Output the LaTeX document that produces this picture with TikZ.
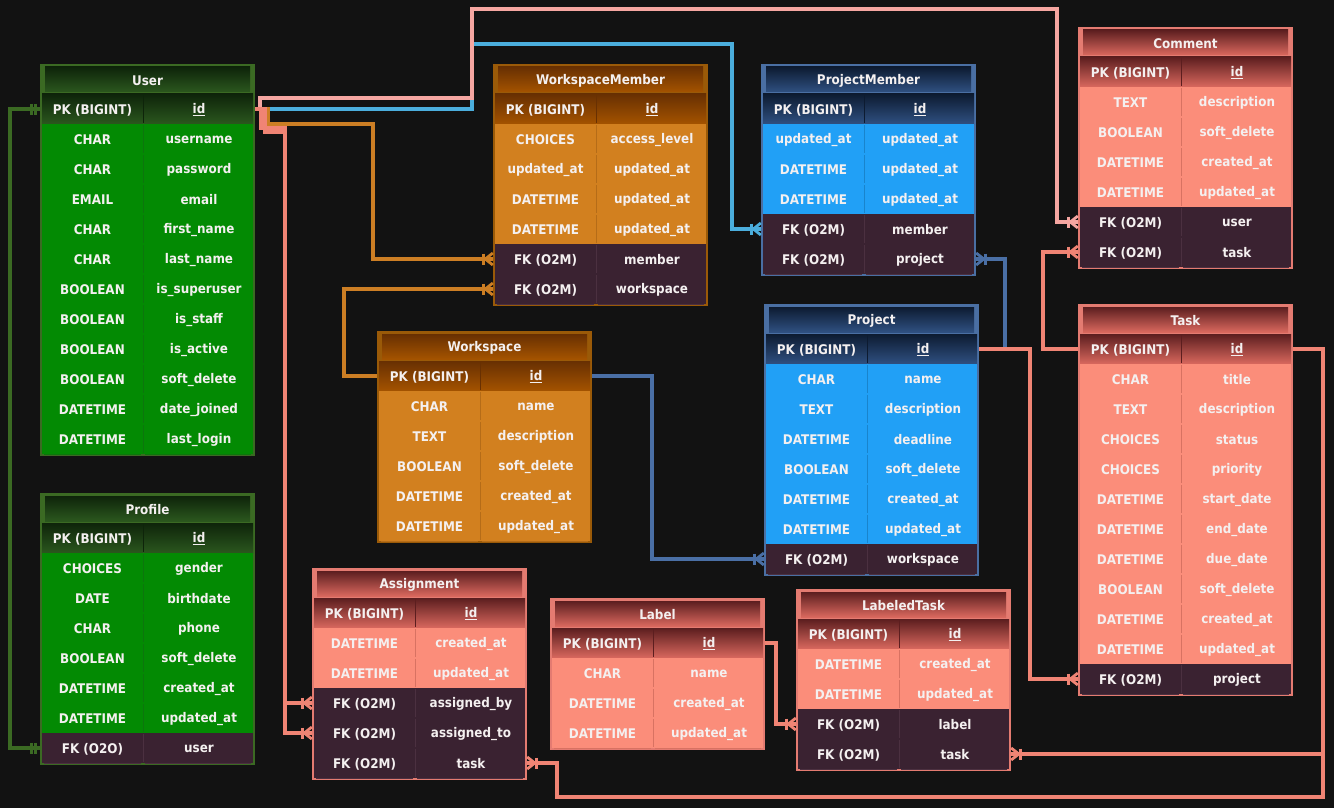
\documentclass[tikz,border=0pt]{standalone}
\usepackage{fontspec}
\setmainfont{DejaVu Sans}[FakeStretch=0.9]
\pgfdeclarelayer{bgl}
\pgfdeclarelayer{back}
\pgfsetlayers{bgl,back,main}

\definecolor{bg}{HTML}{121212}
\definecolor{txtc}{HTML}{F4F0F0}
\definecolor{fkR}{HTML}{3A2231}
\definecolor{fkD}{HTML}{4B3040}
\definecolor{gB}{HTML}{3B6A23}
\definecolor{gT}{HTML}{0E240A}
\definecolor{gM}{HTML}{2B571E}
\definecolor{gR}{HTML}{038A03}
\definecolor{gD}{HTML}{0C760C}
\definecolor{oB}{HTML}{9A5A08}
\definecolor{oT}{HTML}{683002}
\definecolor{oM}{HTML}{A45300}
\definecolor{oR}{HTML}{D2801F}
\definecolor{oD}{HTML}{B56C18}
\definecolor{bB}{HTML}{4A6FA3}
\definecolor{bT}{HTML}{0D1B31}
\definecolor{bM}{HTML}{2F5081}
\definecolor{bR}{HTML}{21A0F6}
\definecolor{bD}{HTML}{1984CC}
\definecolor{sB}{HTML}{E47B71}
\definecolor{sT}{HTML}{5C1E1F}
\definecolor{sM}{HTML}{D9685E}
\definecolor{sR}{HTML}{FB8D7A}
\definecolor{sD}{HTML}{D87262}
\definecolor{cGreen}{HTML}{3B6A23}
\definecolor{cOrange}{HTML}{CC7E24}
\definecolor{cSteel}{HTML}{4A6FA5}
\definecolor{cSky}{HTML}{4BAEDD}
\definecolor{cSalmon}{HTML}{F08474}
\definecolor{cPink}{HTML}{F5A6A1}

\tikzset{
  txt/.style={text=txtc, font=\fontsize{13.3}{15}\selectfont\bfseries, inner sep=0pt, anchor=center},
  rowanchor/.style={minimum width=215pt, minimum height=30pt, inner sep=0pt, draw=none},
  conn/.style={line width=3.2pt},
  mk/.style={line width=2.8pt},
  thin div/.style={line width=0.8pt},
}

\newcommand\ertable[7]{%
  \colorlet{tB}{#2B}\colorlet{tT}{#2T}\colorlet{tM}{#2M}\colorlet{tR}{#2R}\colorlet{tD}{#2D}%
  \pgfmathsetmacro\xa{#3}%
  \pgfmathsetmacro\xb{#3+215}%
  \pgfmathsetmacro\xs{#3+103}%
  \pgfmathsetmacro\yt{#4}%
  \pgfmathsetmacro\yb{#4+32+30*#6}%
  \fill[tB] (\xa,\yt) rectangle (\xb,\yb);
  \shade[top color=tT,bottom color=tM] (\xa+5,\yt+3) rectangle (\xb-5,\yt+28);
  \node[txt] (#1-title) at (\xa+107.5,\yt+16.5) {#5};
  \foreach \ty/\nm/\kk [count=\i from 0] in {#7}{%
    \pgfmathsetmacro\ya{\yt+30+30*\i}%
    \pgfmathsetmacro\yc{\ya+15}%
    \if p\kk
      \shade[top color=tT,bottom color=tM] (\xa+2,\ya) rectangle (\xb-2,\ya+30);
      \draw[thin div,tT] (\xs,\ya+1) -- (\xs,\ya+29);
    \else\if f\kk
      \fill[fkR] (\xa+2,\ya) rectangle (\xb-2,\ya+30);
      \draw[thin div,fkD] (\xs,\ya+1) -- (\xs,\ya+29) (\xa+4,\ya+30) -- (\xs-2,\ya+30) (\xs+2,\ya+30) -- (\xb-4,\ya+30);
    \else
      \fill[tR] (\xa+2,\ya) rectangle (\xb-2,\ya+30);
      \draw[thin div,tD] (\xs,\ya+1) -- (\xs,\ya+29) (\xa+4,\ya+30) -- (\xs-2,\ya+30) (\xs+2,\ya+30) -- (\xb-4,\ya+30);
    \fi\fi
    \node[rowanchor] (#1-\i) at (\xa+107.5,\yc) {};
    \node[txt] at (\xa+52.5,\yc+1) {\ty};
    \node[txt] at (\xa+159,\yc+1) {\nm};
  }%
}

\newcommand\crow[3]{%
  \begin{scope}[shift={(#1)}, xscale=#2]
    \draw[mk,#3] (-9,-5.5) -- (-9,5.5);
    \draw[mk,#3] (0,-6) -- (-7.5,0) -- (0,6) (-7.5,0) -- (0,0);
  \end{scope}}
\newcommand\oneone[3]{%
  \begin{scope}[shift={(#1)}, xscale=#2]
    \draw[mk,#3] (-8,-5.5) -- (-8,5.5) (-4,-5.5) -- (-4,5.5);
  \end{scope}}

\begin{document}
\begin{tikzpicture}[x=1pt,y=-1pt]
\useasboundingbox (0,0) rectangle (1334,808);
\begin{pgfonlayer}{bgl}
\fill[bg] (0,0) rectangle (1334,808);
\end{pgfonlayer}

\ertable{user}{g}{40}{64}{User}{12}{{PK (BIGINT)}/{\underline{id}}/p,CHAR/username/r,CHAR/password/r,EMAIL/email/r,CHAR/first\_name/r,CHAR/last\_name/r,BOOLEAN/is\_superuser/r,BOOLEAN/is\_staff/r,BOOLEAN/is\_active/r,BOOLEAN/soft\_delete/r,DATETIME/date\_joined/r,DATETIME/last\_login/r}

\ertable{profile}{g}{40}{493}{Profile}{8}{{PK (BIGINT)}/{\underline{id}}/p,CHOICES/gender/r,DATE/birthdate/r,CHAR/phone/r,BOOLEAN/soft\_delete/r,DATETIME/created\_at/r,DATETIME/updated\_at/r,{FK (O2O)}/user/f}

\ertable{wsm}{o}{493}{64}{WorkspaceMember}{7}{{PK (BIGINT)}/{\underline{id}}/p,CHOICES/access\_level/r,updated\_at/updated\_at/r,DATETIME/updated\_at/r,DATETIME/updated\_at/r,{FK (O2M)}/member/f,{FK (O2M)}/workspace/f}

\ertable{ws}{o}{377}{331}{Workspace}{6}{{PK (BIGINT)}/{\underline{id}}/p,CHAR/name/r,TEXT/description/r,BOOLEAN/soft\_delete/r,DATETIME/created\_at/r,DATETIME/updated\_at/r}

\ertable{pm}{b}{761}{64}{ProjectMember}{6}{{PK (BIGINT)}/{\underline{id}}/p,updated\_at/updated\_at/r,DATETIME/updated\_at/r,DATETIME/updated\_at/r,{FK (O2M)}/member/f,{FK (O2M)}/project/f}

\ertable{proj}{b}{764}{304}{Project}{8}{{PK (BIGINT)}/{\underline{id}}/p,CHAR/name/r,TEXT/description/r,DATETIME/deadline/r,BOOLEAN/soft\_delete/r,DATETIME/created\_at/r,DATETIME/updated\_at/r,{FK (O2M)}/workspace/f}

\ertable{comment}{s}{1078}{27}{Comment}{7}{{PK (BIGINT)}/{\underline{id}}/p,TEXT/description/r,BOOLEAN/soft\_delete/r,DATETIME/created\_at/r,DATETIME/updated\_at/r,{FK (O2M)}/user/f,{FK (O2M)}/task/f}

\ertable{task}{s}{1078}{304}{Task}{12}{{PK (BIGINT)}/{\underline{id}}/p,CHAR/title/r,TEXT/description/r,CHOICES/status/r,CHOICES/priority/r,DATETIME/start\_date/r,DATETIME/end\_date/r,DATETIME/due\_date/r,BOOLEAN/soft\_delete/r,DATETIME/created\_at/r,DATETIME/updated\_at/r,{FK (O2M)}/project/f}

\ertable{asg}{s}{312}{568}{Assignment}{6}{{PK (BIGINT)}/{\underline{id}}/p,DATETIME/created\_at/r,DATETIME/updated\_at/r,{FK (O2M)}/assigned\_by/f,{FK (O2M)}/assigned\_to/f,{FK (O2M)}/task/f}

\ertable{label}{s}{550}{598}{Label}{4}{{PK (BIGINT)}/{\underline{id}}/p,CHAR/name/r,DATETIME/created\_at/r,DATETIME/updated\_at/r}

\ertable{lt}{s}{796}{589}{LabeledTask}{5}{{PK (BIGINT)}/{\underline{id}}/p,DATETIME/created\_at/r,DATETIME/updated\_at/r,{FK (O2M)}/label/f,{FK (O2M)}/task/f}

\begin{pgfonlayer}{back}
\draw[conn,cGreen] (user-0.west) -- (10,109) -- (10,748) -- (profile-7.west);
\draw[conn,cSky] (user-0.east) -- (472,109) -- (472,44) -- (732,44) -- (732,229) -- (pm-4.west);
\draw[conn,cPink] (user-0.east) -- (260,109) -- (260,98) -- (472,98) -- (472,9) -- (1057,9) -- (1057,222) -- (comment-5.west);
\draw[conn,cOrange] (user-0.east) -- (268,109) -- (268,124) -- (373,124) -- (373,259) -- (wsm-5.west);
\draw[conn,cSalmon] (user-0.east) -- (261,109) -- (261,128) -- (285,128) -- (285,703) -- (asg-3.west);
\draw[conn,cSalmon] (user-0.east) -- (265,109) -- (265,132) -- (285,132) -- (285,733) -- (asg-4.west);
\draw[conn,cOrange] (ws-0.west) -- (344,376) -- (344,289) -- (wsm-6.west);
\draw[conn,cSteel] (ws-0.east) -- (652,376) -- (652,559) -- (proj-7.west);
\draw[conn,cSteel] (proj-0.east) -- (1005,349) -- (1005,259) -- (pm-5.east);
\draw[conn,cSalmon] (proj-0.east) -- (1030,349) -- (1030,679) -- (task-11.west);
\draw[conn,cSalmon] (task-0.west) -- (1043,349) -- (1043,252) -- (comment-6.west);
\draw[conn,cSalmon] (task-0.east) -- (1323,349) -- (1323,797) -- (557,797) -- (557,763) -- (asg-5.east);
\draw[conn,cSalmon] (task-0.east) -- (1323,349) -- (1323,754) -- (lt-4.east);
\draw[conn,cSalmon] (label-0.east) -- (776,643) -- (776,724) -- (lt-3.west);
\end{pgfonlayer}

\oneone{user-0.west}{1}{cGreen}
\oneone{profile-7.west}{1}{cGreen}
\crow{wsm-5.west}{1}{cOrange}
\crow{wsm-6.west}{1}{cOrange}
\crow{pm-4.west}{1}{cSky}
\crow{comment-5.west}{1}{cPink}
\crow{asg-3.west}{1}{cSalmon}
\crow{asg-4.west}{1}{cSalmon}
\crow{proj-7.west}{1}{cSteel}
\crow{pm-5.east}{-1}{cSteel}
\crow{task-11.west}{1}{cSalmon}
\crow{comment-6.west}{1}{cSalmon}
\crow{asg-5.east}{-1}{cSalmon}
\crow{lt-4.east}{-1}{cSalmon}
\crow{lt-3.west}{1}{cSalmon}
\end{tikzpicture}
\end{document}
